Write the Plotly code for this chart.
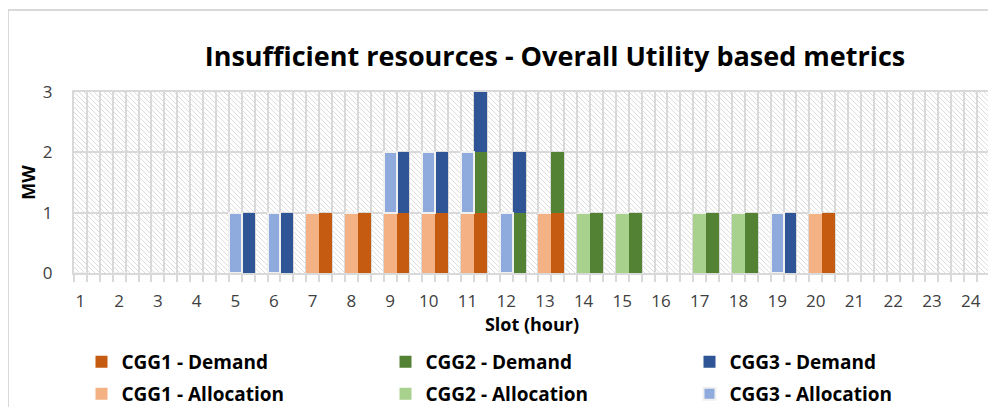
import base64
import plotly.graph_objects as go

# ---- data ----
slots = list(range(1, 25))
cgg1_demand = [0, 0, 0, 0, 0, 0, 1, 1, 1, 1, 1, 0, 1, 0, 0, 0, 0, 0, 0, 1, 0, 0, 0, 0]
cgg2_demand = [0, 0, 0, 0, 0, 0, 0, 0, 0, 0, 1, 1, 1, 1, 1, 0, 1, 1, 0, 0, 0, 0, 0, 0]
cgg3_demand = [0, 0, 0, 0, 1, 1, 0, 0, 1, 1, 1, 1, 0, 0, 0, 0, 0, 0, 1, 0, 0, 0, 0, 0]
cgg1_alloc = [0, 0, 0, 0, 0, 0, 1, 1, 1, 1, 1, 0, 1, 0, 0, 0, 0, 0, 0, 1, 0, 0, 0, 0]
cgg2_alloc = [0, 0, 0, 0, 0, 0, 0, 0, 0, 0, 0, 0, 0, 1, 1, 0, 1, 1, 0, 0, 0, 0, 0, 0]
cgg3_alloc = [0, 0, 0, 0, 1, 1, 0, 0, 1, 1, 1, 1, 0, 0, 0, 0, 0, 0, 1, 0, 0, 0, 0, 0]
tick_labels = [str(s) for s in slots]
y_ticks = [0, 1, 2, 3]

# each slot occupies three category positions: allocation, demand, gap
x_alloc = [3 * (s - 1) for s in slots]
x_demand = [3 * (s - 1) + 1 for s in slots]
n_pos = 3 * len(slots) - 1

GRID = "#d9d9d9"
TXT = "#404040"
FONT = "Open Sans"

# page body has an 8px margin, so figure pixels = screen pixels - 8
OFF = 8
FW, FH = 996 - OFF, 407 - OFF
L, T = 74 - OFF, 92 - OFF
PW, PH = 916, 181

fig = go.Figure()


def add(name, xs, ys, color, legend, line=None):
    fig.add_trace(go.Bar(
        x=xs, y=ys, name=name, legend=legend,
        marker=dict(color=color,
                    line=line if line else dict(width=0)),
        width=1.0,
    ))


add("CGG1 - Demand", x_demand, cgg1_demand, "#C55A11", "legend")
add("CGG1 - Allocation", x_alloc, cgg1_alloc, "#F4B183", "legend2")
add("CGG2 - Demand", x_demand, cgg2_demand, "#548235", "legend")
add("CGG2 - Allocation", x_alloc, cgg2_alloc, "#A9D18E", "legend2")
add("CGG3 - Demand", x_demand, cgg3_demand, "#2F5597", "legend")
add("CGG3 - Allocation", x_alloc, cgg3_alloc, "#8FAADC", "legend2",
    line=dict(width=2, color="#f0f0f0"))

# hatched plot-area background
svg = (
    f'<svg xmlns="http://www.w3.org/2000/svg" width="{PW}" height="{PH}">'
    '<defs><pattern id="p" patternUnits="userSpaceOnUse" width="5" height="5">'
    '<path d="M-1,-1 L6,6 M-1,4 L1,6 M4,-1 L6,1" stroke="#dedede" stroke-width="1"/>'
    '</pattern></defs>'
    f'<rect width="{PW}" height="{PH}" fill="white"/>'
    f'<rect width="{PW}" height="{PH}" fill="url(#p)"/>'
    '</svg>'
)
src = "data:image/svg+xml;base64," + base64.b64encode(svg.encode()).decode()

boundaries = [k - 0.5 for k in range(0, n_pos + 1)]

legend_common = dict(
    orientation="h", entrywidth=259, entrywidthmode="pixels",
    xref="paper", x=(104.5 - OFF - 4 - 19 - L) / PW, xanchor="left",
    yref="container", yanchor="middle",
    font=dict(size=19, color="#000000", weight="bold"),
    bgcolor="rgba(0,0,0,0)", traceorder="normal",
)

fig.update_layout(
    width=FW, height=FH,
    margin=dict(l=L, r=FW - L - PW, t=T, b=FH - T - PH, autoexpand=False),
    barmode="stack",
    bargap=0,
    paper_bgcolor="white",
    plot_bgcolor="rgba(0,0,0,0)",
    font=dict(family=FONT, color=TXT),
    title=dict(
        text="Insufficient resources - Overall Utility based metrics",
        font=dict(size=27, color="#000000", family=FONT, weight="bold"),
        x=(555 - OFF) / FW, xanchor="center", xref="container",
        y=1 - (57 - OFF) / FH, yanchor="middle", yref="container",
    ),
    images=[dict(source=src, xref="paper", yref="paper", x=0, y=1,
                 sizex=1, sizey=1, xanchor="left", yanchor="top",
                 sizing="stretch", layer="below")],
    xaxis=dict(
        range=[-0.5, n_pos - 0.5],
        tickmode="array", tickvals=x_alloc, ticktext=tick_labels,
        ticks="", showgrid=False, zeroline=False, ticklabelstandoff=12,
        tickfont=dict(size=17, color=TXT),
        showline=True, linecolor=GRID, linewidth=2, mirror=True,
        minor=dict(tickmode="array", tickvals=boundaries, showgrid=True,
                   gridcolor=GRID, gridwidth=2, ticks="outside",
                   ticklen=7, tickwidth=2, tickcolor=GRID),
        title=dict(text="Slot (hour)",
                   font=dict(size=18, color="#000000", weight="bold"),
                   standoff=2),
    ),
    yaxis=dict(
        range=[0, 3], tickvals=y_ticks,
        showgrid=True, gridcolor=GRID, gridwidth=2, zeroline=False,
        showline=True, linecolor=GRID, linewidth=2, mirror=True,
        ticks="", ticklabelstandoff=16,
        tickfont=dict(size=17, color=TXT),
        title=dict(text="MW", font=dict(size=18, color="#000000", weight="bold"),
                   standoff=3),
    ),
    legend=dict(legend_common, y=1 - (362 - OFF) / FH),
    legend2=dict(legend_common, y=1 - (394 - OFF) / FH),
    shapes=[dict(type="rect", xref="paper", yref="paper",
                 x0=(8 - OFF - L) / PW, x1=1.3, y0=-2, y1=(PH + T - (10 - OFF)) / PH,
                 line=dict(color=GRID, width=2), fillcolor="rgba(0,0,0,0)",
                 layer="below")],
)

fig.update_traces(hoverinfo="skip")
fig.write_html("out.html")
